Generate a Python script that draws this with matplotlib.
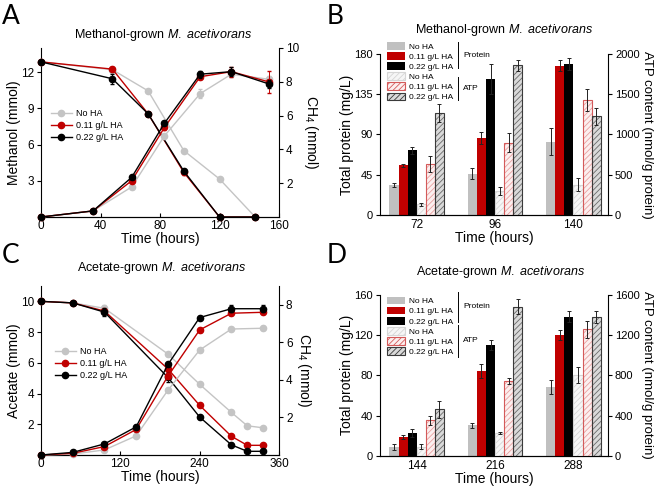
import numpy as np
import matplotlib
matplotlib.use('Agg')
import matplotlib.pyplot as plt
from matplotlib.patches import Patch
from matplotlib.lines import Line2D

plt.rcParams['font.family'] = ['Liberation Sans', 'DejaVu Sans']
plt.rcParams['mathtext.fontset'] = 'custom'
plt.rcParams['mathtext.rm'] = 'Liberation Sans'
plt.rcParams['mathtext.it'] = 'Liberation Sans:italic'
plt.rcParams['hatch.linewidth'] = 0.6

labels = ['No HA', '0.11 g/L HA', '0.22 g/L HA']

# A: methanol-grown (methanol on left axis, CH4 on right axis)
meoh_time = [0, 48, 72, 96, 120, 144]
meoh_none = [12.85, 12.2, 10.45, 5.5, 3.15, 0.0]
meoh_011 = [12.85, 12.25, 8.55, 3.7, 0.0, 0.0]
meoh_022 = [12.85, 11.45, 8.55, 3.8, 0.0, 0.0]
meoh_err_none = [0.1, 0.15, 0.1, 0.1, 0.1, 0.0]
meoh_err_011 = [0.1, 0.15, 0.15, 0.2, 0.0, 0.0]
meoh_err_022 = [0.1, 0.4, 0.15, 0.15, 0.0, 0.0]

ch4_m_time = [0, 35, 61, 83, 107, 128, 153]
ch4_m_none = [0.0, 0.36, 1.78, 4.8, 7.3, 8.45, 8.15]
ch4_m_011 = [0.0, 0.36, 2.15, 5.3, 8.3, 8.6, 8.0]
ch4_m_022 = [0.0, 0.36, 2.35, 5.55, 8.45, 8.6, 7.88]
ch4_m_err_none = [0.0, 0.05, 0.1, 0.1, 0.25, 0.15, 0.2]
ch4_m_err_011 = [0.0, 0.05, 0.1, 0.15, 0.15, 0.3, 0.65]
ch4_m_err_022 = [0.0, 0.05, 0.1, 0.1, 0.2, 0.25, 0.25]

# C: acetate-grown
ac_time = [0, 48, 96, 192, 240, 288, 312, 336]
ac_none = [10.0, 9.9, 9.55, 6.57, 4.6, 2.77, 1.9, 1.77]
ac_011 = [10.0, 9.9, 9.37, 5.6, 3.23, 1.22, 0.63, 0.63]
ac_022 = [10.0, 9.9, 9.3, 5.05, 2.47, 0.66, 0.24, 0.24]
ac_err_none = [0.05, 0.05, 0.2, 0.1, 0.1, 0.1, 0.05, 0.05]
ac_err_011 = [0.05, 0.05, 0.1, 0.15, 0.1, 0.1, 0.05, 0.05]
ac_err_022 = [0.05, 0.05, 0.25, 0.3, 0.1, 0.1, 0.05, 0.05]

ch4_a_time = [0, 48, 96, 144, 192, 240, 288, 336]
ch4_a_none = [0.0, 0.05, 0.27, 1.02, 3.45, 5.59, 6.71, 6.75]
ch4_a_011 = [0.0, 0.09, 0.45, 1.36, 4.2, 6.66, 7.55, 7.6]
ch4_a_022 = [0.0, 0.14, 0.59, 1.5, 4.82, 7.32, 7.79, 7.79]
ch4_a_err_none = [0.0, 0.03, 0.03, 0.05, 0.1, 0.1, 0.1, 0.1]
ch4_a_err_011 = [0.0, 0.03, 0.05, 0.05, 0.1, 0.1, 0.1, 0.1]
ch4_a_err_022 = [0.0, 0.03, 0.05, 0.1, 0.1, 0.1, 0.2, 0.2]

# B: methanol-grown protein / ATP
b_times = ['72', '96', '140']
b_prot_none = [33.5, 46, 82]
b_prot_011 = [55.5, 86, 167]
b_prot_022 = [72.5, 152, 169]
b_prot_err_none = [2, 6, 15]
b_prot_err_011 = [1.5, 7, 6.5]
b_prot_err_022 = [4, 17, 7]
b_atp_none = [135, 300, 375]
b_atp_011 = [630, 900, 1430]
b_atp_022 = [1265, 1860, 1225]
b_atp_err_none = [20, 50, 80]
b_atp_err_011 = [100, 115, 135]
b_atp_err_022 = [110, 70, 110]

# D: acetate-grown protein / ATP
d_times = ['144', '216', '288']
d_prot_none = [9, 30.2, 68.7]
d_prot_011 = [18.3, 84.6, 119.8]
d_prot_022 = [22.2, 110, 138.4]
d_prot_err_none = [3, 2.5, 7]
d_prot_err_011 = [2, 7, 5]
d_prot_err_022 = [4, 5, 5.5]
d_atp_none = [90, 222, 803]
d_atp_011 = [352, 747, 1258]
d_atp_022 = [461, 1484, 1384]
d_atp_err_none = [27, 10, 80]
d_atp_err_011 = [48, 30, 86]
d_atp_err_022 = [83, 73, 60]

line_colors = ['#c4c4c4', '#c00000', '#000000']
prot_colors = ['#c0c0c0', '#c00000', '#000000']
atp_face = ['#f6f6f6', '#fcefef', '#d9d9d9']
atp_hatch = ['#d6d6d6', '#e8a0a0', '#6a6a6a']
atp_edge = ['#d6d6d6', '#d45a5a', '#3a3a3a']

W, H = 655, 487
fig = plt.figure(figsize=(6.55, 4.87), dpi=100)


def px_axes(l, t, r, b):
    return fig.add_axes([l / W, 1 - b / H, (r - l) / W, (b - t) / H])


def style_axes(ax, right=False):
    ax.spines['top'].set_visible(False)
    if not right:
        ax.spines['right'].set_visible(False)
    for s in ax.spines.values():
        s.set_linewidth(0.8)
    ax.tick_params(direction='out', length=3, width=0.8, labelsize=8.5, pad=2)


def line_panel(ax, t1, left_series, left_errs, t2, right_series, right_errs):
    ax2 = ax.twinx()
    style_axes(ax)
    style_axes(ax2, right=True)
    ax2.spines['left'].set_visible(False)
    ax.tick_params(axis='x', direction='in', length=3, pad=2)
    for i in range(3):
        ax.errorbar(t1, left_series[i], yerr=left_errs[i], color=line_colors[i],
                    marker='o', ms=4.5, lw=1, elinewidth=0.7, capsize=1.5,
                    zorder=3 + i, clip_on=False)
        ax2.errorbar(t2, right_series[i], yerr=right_errs[i], color=line_colors[i],
                     marker='o', ms=4.5, lw=1, elinewidth=0.7, capsize=1.5,
                     zorder=3 + i, clip_on=False)
    handles = [Line2D([], [], color=line_colors[i], marker='o', ms=4.5, lw=1)
               for i in range(3)]
    return ax2, handles


# ---------- A ----------
axA = px_axes(41, 48, 279, 217)
axA2, hA = line_panel(axA, meoh_time, [meoh_none, meoh_011, meoh_022],
                      [meoh_err_none, meoh_err_011, meoh_err_022],
                      ch4_m_time, [ch4_m_none, ch4_m_011, ch4_m_022],
                      [ch4_m_err_none, ch4_m_err_011, ch4_m_err_022])
axA.set_xlim(0, 160)
axA.set_xticks([0, 40, 80, 120, 160])
axA.set_ylim(0, 14)
axA.set_yticks([3, 6, 9, 12])
axA2.set_ylim(0, 10)
axA2.set_yticks([2, 4, 6, 8, 10])
axA.set_xlabel('Time (hours)', fontsize=10, labelpad=0)
axA.set_ylabel('Methanol (mmol)', fontsize=10, labelpad=0)
axA2.set_ylabel('CH$_4$ (mmol)', fontsize=10, rotation=270, va='bottom', labelpad=2)
axA.legend(hA, labels, loc='upper left', bbox_to_anchor=(0.042, 0.64), frameon=False,
           fontsize=6.5, handlelength=2.3, handletextpad=0.5, labelspacing=0.35,
           borderpad=0, borderaxespad=0)

# ---------- C ----------
axC = px_axes(41, 286, 279, 455)
axC2, hC = line_panel(axC, ac_time, [ac_none, ac_011, ac_022],
                      [ac_err_none, ac_err_011, ac_err_022],
                      ch4_a_time, [ch4_a_none, ch4_a_011, ch4_a_022],
                      [ch4_a_err_none, ch4_a_err_011, ch4_a_err_022])
axC.set_xlim(0, 360)
axC.set_xticks([0, 120, 240, 360])
axC.set_ylim(0, 11)
axC.set_yticks([2, 4, 6, 8, 10])
axC2.set_ylim(0, 9)
axC2.set_yticks([2, 4, 6, 8])
axC.set_xlabel('Time (hours)', fontsize=10, labelpad=0)
axC.set_ylabel('Acetate (mmol)', fontsize=10, labelpad=0)
axC2.set_ylabel('CH$_4$ (mmol)', fontsize=10, rotation=270, va='bottom', labelpad=2)
axC.legend(hC, labels, loc='upper left', bbox_to_anchor=(0.058, 0.64), frameon=False,
           fontsize=6.5, handlelength=2.3, handletextpad=0.5, labelspacing=0.35,
           borderpad=0, borderaxespad=0)


def bar_panel(ax, cats, prot, prot_err, atp, atp_err, atp_max, atp_ticks,
              prot_max, prot_ticks, leg_y, lines_y):
    ax2 = ax.twinx()
    style_axes(ax)
    style_axes(ax2, right=True)
    ax2.spines['left'].set_visible(False)
    ax.tick_params(axis='y', labelsize=8)
    ax2.tick_params(axis='y', labelsize=8)
    x = np.arange(len(cats))
    w = 0.115
    ekw = dict(elinewidth=0.7, capsize=1.5, capthick=0.7, ecolor='#222222')
    for i in range(3):
        ax.bar(x + (i - 2.5) * w, prot[i], w, yerr=prot_err[i], color=prot_colors[i],
               linewidth=0, error_kw=ekw, zorder=2)
    for i in range(3):
        xi = x + (i + 0.5) * w
        ax2.bar(xi, atp[i], w, facecolor=atp_face[i], edgecolor=atp_hatch[i],
                hatch='//////', linewidth=0, zorder=2)
        ax2.bar(xi, atp[i], w, fill=False, edgecolor=atp_edge[i], linewidth=0.8,
                yerr=atp_err[i], error_kw=ekw, zorder=3)
    ax.set_xlim(-0.466, 2.44)
    ax.set_xticks(x)
    ax.set_xticklabels(cats)
    ax.tick_params(axis='x', length=0, pad=3)
    ax.set_ylim(0, prot_max)
    ax.set_yticks(prot_ticks)
    ax2.set_ylim(0, atp_max)
    ax2.set_yticks(atp_ticks)
    ax.set_xlabel('Time (hours)', fontsize=10, labelpad=0)
    ax.set_ylabel('Total protein (mg/L)', fontsize=10, labelpad=0)
    ax2.set_ylabel('ATP content (nmol/g protein)', fontsize=9.5, rotation=270,
                   va='bottom', labelpad=1)
    handles = [Patch(facecolor=prot_colors[i], edgecolor=prot_colors[i], linewidth=0)
               for i in range(3)]
    handles += [Patch(facecolor=atp_face[i], edgecolor=atp_edge[i], hatch='//////',
                      linewidth=0.8) for i in range(3)]
    leg = ax2.legend(handles, labels + labels, loc='upper left',
                     bbox_to_anchor=(0.032, leg_y), frameon=False, fontsize=6,
                     handlelength=2.1, handleheight=1.05, handletextpad=0.5,
                     labelspacing=0.17, borderpad=0, borderaxespad=0)
    leg.set_zorder(10)
    (p0, p1), (a0, a1) = lines_y
    ax.add_line(Line2D([0.342, 0.342], [p0, p1], transform=ax.transAxes, color='k',
                       lw=0.7, clip_on=False))
    ax.add_line(Line2D([0.342, 0.342], [a0, a1], transform=ax.transAxes, color='k',
                       lw=0.7, clip_on=False))
    ax.text(0.364, (p0 + p1) / 2, 'Protein', transform=ax.transAxes, fontsize=6,
            va='center')
    ax.text(0.364, (a0 + a1) / 2, 'ATP', transform=ax.transAxes, fontsize=6,
            va='center')
    return ax2


# ---------- B ----------
axB = px_axes(380, 54, 608, 215)
bar_panel(axB, b_times, [b_prot_none, b_prot_011, b_prot_022],
          [b_prot_err_none, b_prot_err_011, b_prot_err_022],
          [b_atp_none, b_atp_011, b_atp_022],
          [b_atp_err_none, b_atp_err_011, b_atp_err_022],
          2000, [0, 500, 1000, 1500, 2000], 180, [0, 45, 90, 135, 180],
          1.075, ((1.076, 0.911), (0.859, 0.714)))

# ---------- D ----------
axD = px_axes(380, 295, 608, 455.7)
bar_panel(axD, d_times, [d_prot_none, d_prot_011, d_prot_022],
          [d_prot_err_none, d_prot_err_011, d_prot_err_022],
          [d_atp_none, d_atp_011, d_atp_022],
          [d_atp_err_none, d_atp_err_011, d_atp_err_022],
          1600, [0, 400, 800, 1200, 1600], 160, [0, 40, 80, 120, 160],
          0.99, ((1.02, 0.834), (0.813, 0.616)))

# titles and panel letters
titles = [('Methanol-grown $\\it{M.\\ acetivorans}$', 163, 38),
          ('Methanol-grown $\\it{M.\\ acetivorans}$', 504, 33),
          ('Acetate-grown $\\it{M.\\ acetivorans}$', 162, 271),
          ('Acetate-grown $\\it{M.\\ acetivorans}$', 501, 275)]
for txt, x, y in titles:
    fig.text(x / W, 1 - y / H, txt, ha='center', va='baseline', fontsize=9)

for letter, x, y in [('A', 2, 24), ('B', 327, 24), ('C', 2, 263), ('D', 327, 263)]:
    fig.text(x / W, 1 - y / H, letter, ha='left', va='baseline', fontsize=19,
             family=['Lato', 'DejaVu Sans'])

fig.savefig('out.png', dpi=100)
